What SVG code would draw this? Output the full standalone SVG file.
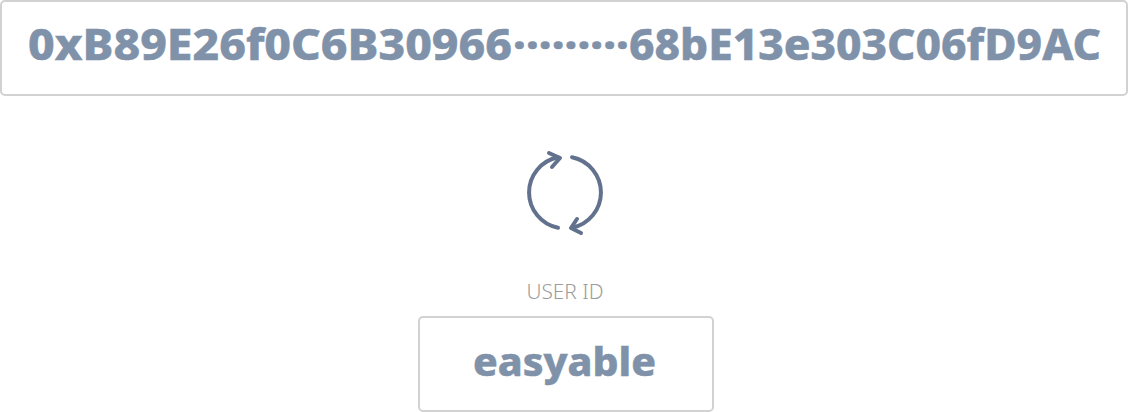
<svg xmlns="http://www.w3.org/2000/svg" width="1128" height="412" viewBox="0 0 1128 412">
<style>
.box{fill:#fff;stroke:#d2d2d2;stroke-width:2}
.t{font-family:"Noto Sans","DejaVu Sans",sans-serif;font-weight:800;fill:#7f92a9;stroke:#7f92a9;stroke-width:.5}
.ic{fill:none;stroke:#62728e;stroke-width:4;stroke-linecap:round;stroke-linejoin:round}
</style>
<rect width="1128" height="412" fill="#fff"/>
<g id="address"><rect class="box" x="1" y="1" width="1126" height="94" rx="4"/>
<text class="t" y="60" font-size="43"><tspan x="28" textLength="484" lengthAdjust="spacingAndGlyphs">0xB89E26f0C6B30966</tspan><tspan x="513" textLength="116" lengthAdjust="spacingAndGlyphs">·········</tspan><tspan x="629" textLength="472" lengthAdjust="spacingAndGlyphs">68bE13e303C06fD9AC</tspan></text></g>
<g id="swap-icon">
<path class="ic" d="M572 157.2A36 36 0 0 1 572 227.8"/><path class="ic" d="M558 227.8A36 36 0 0 1 558 157.2"/>
<path class="ic" d="M549 153L560 158L552 167"/><path class="ic" d="M581 233L571 228L577 219"/></g>
<g id="user-label"><text x="565" y="298.6" font-family="Noto Sans,sans-serif" font-weight="300" font-size="19.5" fill="#9c9c9c" text-anchor="middle" textLength="77" lengthAdjust="spacingAndGlyphs">USER ID</text></g>
<g id="user-id"><rect class="box" x="419" y="317" width="294" height="94" rx="4"/>
<text class="t" x="473" y="376" font-size="39" textLength="183" lengthAdjust="spacingAndGlyphs">easyable</text></g>
<g id="connectors"/>
</svg>
